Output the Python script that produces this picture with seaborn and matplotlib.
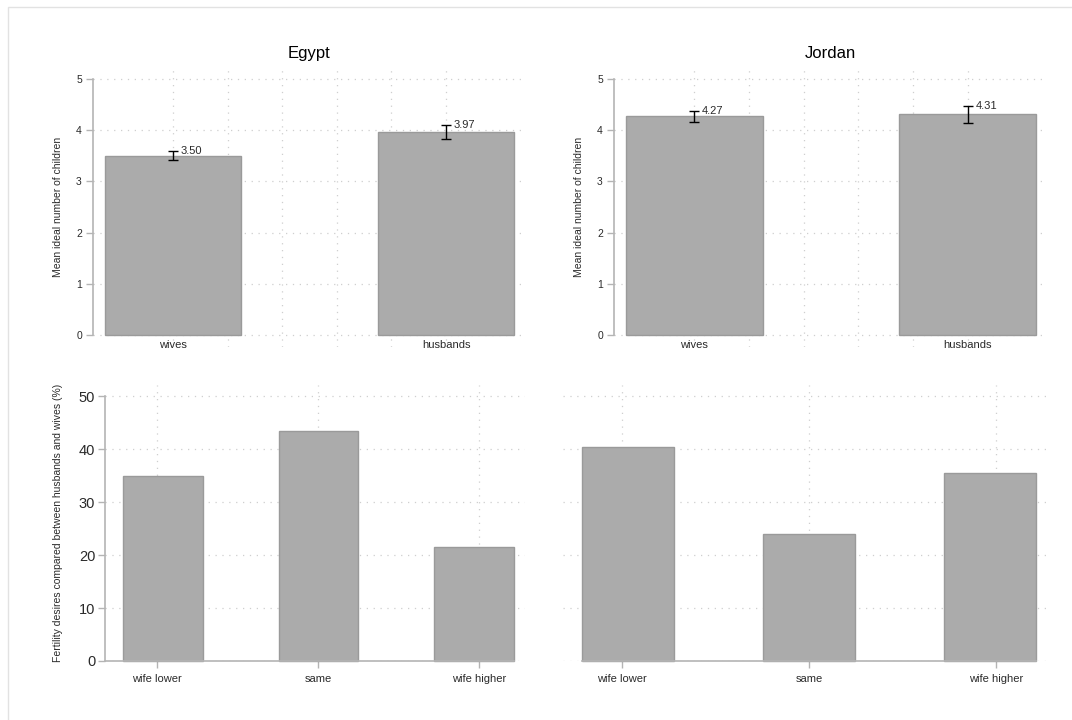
import matplotlib.pyplot as plt
import numpy as np
import pandas as pd
import seaborn as sns
from matplotlib.patches import Rectangle

# Top row: mean ideal number of children with 95% CI
spouses = ["wives", "husbands"]
egypt_ideal = [3.50, 3.97]
egypt_ci_low = [3.42, 3.83]
egypt_ci_high = [3.60, 4.11]
jordan_ideal = [4.27, 4.31]
jordan_ci_low = [4.16, 4.15]
jordan_ci_high = [4.38, 4.48]

# Bottom row: fertility desires compared between spouses (%)
gap_cats = ["wife lower", "same", "wife higher"]
egypt_gap = [34.9, 43.4, 21.5]
jordan_gap = [40.4, 24.0, 35.5]

sns.set_theme(style="white")
plt.rcParams["font.family"] = ["Liberation Sans", "DejaVu Sans"]

BAR = "#ababab"
EDGE = "#9a9a9a"
AXIS = "#b4b4b4"
GRID = "#cfcfcf"
TXT = "#2a2a2a"

W, H = 1072, 720
fig = plt.figure(figsize=(W / 100, H / 100), dpi=100)
fig.patch.set_facecolor("white")


def px_axes(x0, y0, x1, y1):
    return fig.add_axes([x0 / W, 1 - y1 / H, (x1 - x0) / W, (y1 - y0) / H])


# thin frame (only top/left edges visible in the original)
fig.patches.append(Rectangle((8 / W, -0.1), 2, 1.1 - 7 / H, transform=fig.transFigure,
                             fill=False, edgecolor="#e2e2e2", lw=1))

grid_kw = dict(color=GRID, linestyle=(0, (1, 4.5)), linewidth=0.9)


def top_panel(ax, title, means, lows, highs):
    df = pd.DataFrame({"spouse": spouses, "ideal": means})
    sns.barplot(data=df, x="spouse", y="ideal", order=spouses, color=BAR, saturation=1,
                edgecolor=EDGE, linewidth=1, width=0.5, ax=ax)
    pos = np.arange(len(means))
    m = np.array(means)
    yerr = [m - np.array(lows), np.array(highs) - m]
    ax.errorbar(pos, m, yerr=yerr, fmt="none", ecolor="black", elinewidth=1,
                capsize=3.5, capthick=1, zorder=5)
    for p, v, hi in zip(pos, means, highs):
        ax.text(p + 0.028, hi, f"{v:.2f}", fontsize=8, color=TXT, ha="left", va="center")
    ax.set_xlim(-0.293, 1.289)
    ax.set_ylim(-0.234, 5.176)
    ax.set_xticks(np.linspace(0, 1, 6))
    ax.set_xticklabels([spouses[0], "", "", "", "", spouses[1]])
    ax.tick_params(axis="x", length=0, pad=-5, labelsize=8, labelcolor=TXT)
    ax.set_yticks(range(0, 6))
    ax.tick_params(axis="y", length=5, width=1, color=AXIS, pad=3, labelsize=7.5,
                   labelcolor=TXT, left=True)
    ax.grid(True, **grid_kw)
    ax.set_axisbelow(True)
    for s in ["top", "right", "bottom"]:
        ax.spines[s].set_visible(False)
    ax.spines["left"].set_color(AXIS)
    ax.spines["left"].set_linewidth(1.2)
    ax.spines["left"].set_bounds(0, 5)
    ax.set_xlabel("")
    ax.set_ylabel("")
    ax.set_title(title, fontsize=12, color="black", pad=9)


def bottom_panel(ax, values, xlim, ticks, base_bounds, show_y=True):
    df = pd.DataFrame({"gap": gap_cats, "pct": values})
    sns.barplot(data=df, x="gap", y="pct", order=gap_cats, color=BAR, saturation=1,
                edgecolor=EDGE, linewidth=1, width=0.51, ax=ax)
    for patch in ax.patches:
        patch.set_clip_on(False)
    ax.set_xlim(*xlim)
    ax.set_ylim(0, 52.1)
    ax.set_xticks(ticks)
    ax.set_xticklabels(gap_cats)
    ax.tick_params(axis="x", length=5, width=1, color=AXIS, pad=4, labelsize=8,
                   labelcolor=TXT, bottom=True)
    ax.set_yticks(range(0, 51, 10))
    ax.grid(True, **grid_kw)
    ax.set_axisbelow(True)
    for s in ["top", "right"]:
        ax.spines[s].set_visible(False)
    ax.spines["bottom"].set_color(AXIS)
    ax.spines["bottom"].set_linewidth(1.2)
    ax.spines["bottom"].set_bounds(*base_bounds)
    if show_y:
        ax.tick_params(axis="y", length=5, width=1, color=AXIS, pad=2, labelsize=10.5,
                       labelcolor=TXT, left=True)
        ax.spines["left"].set_color(AXIS)
        ax.spines["left"].set_linewidth(1.2)
        ax.spines["left"].set_bounds(0, 50)
    else:
        ax.spines["left"].set_visible(False)
        ax.tick_params(axis="y", length=0, labelleft=False)
    ax.set_xlabel("")
    ax.set_ylabel("")


ax_tl = px_axes(93, 70, 525, 347)
ax_tr = px_axes(614, 70, 1047, 347)
ax_bl = px_axes(105, 385, 525, 661)
ax_br = px_axes(563, 385, 1047, 661)

top_panel(ax_tl, "Egypt", egypt_ideal, egypt_ci_low, egypt_ci_high)
top_panel(ax_tr, "Jordan", jordan_ideal, jordan_ci_low, jordan_ci_high)
bottom_panel(ax_bl, egypt_gap, (-0.373, 2.328), [-0.04, 1.0, 2.03], (-0.373, 2.257))
bottom_panel(ax_br, jordan_gap, (-0.361, 2.316), [-0.033, 1.0, 2.036], (-0.255, 2.255),
             show_y=False)

ylab = "Mean ideal number of children"
fig.text(58 / W, 1 - 207 / H, ylab, rotation=90, ha="center", va="center",
         fontsize=7.5, color=TXT)
fig.text(579 / W, 1 - 207 / H, ylab, rotation=90, ha="center", va="center",
         fontsize=7.5, color=TXT)
fig.text(58 / W, 1 - 523 / H, "Fertility desires compared between husbands and wives (%)",
         rotation=90, ha="center", va="center", fontsize=7.5, color=TXT)

fig.savefig("out.png", dpi=100)
